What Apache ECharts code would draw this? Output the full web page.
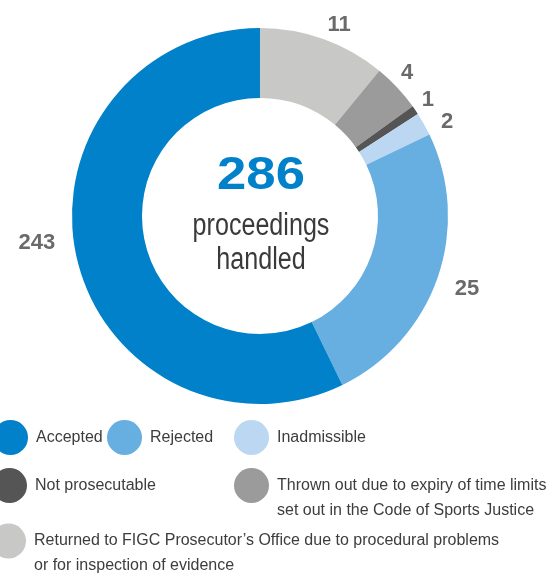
<!DOCTYPE html>
<html>
<head>
<meta charset="utf-8">
<script src="https://cdn.jsdelivr.net/npm/echarts@6/dist/echarts.min.js"></script>
<style>
  html, body { margin: 0; padding: 0; background: #fff; }
  #chart { width: 550px; height: 578px; }
</style>
</head>
<body>
<div id="chart"></div>
<script>
// categories in drawing order, clockwise from 12 o'clock
const categories = [
  "Returned to FIGC Prosecutor’s Office due to procedural problems or for inspection of evidence",
  "Thrown out due to expiry of time limits set out in the Code of Sports Justice",
  "Not prosecutable",
  "Inadmissible",
  "Rejected",
  "Accepted",
];
// number of proceedings per outcome (the printed labels)
const counts = [11, 4, 1, 2, 25, 243];
// sector sizes in degrees as drawn in the reference (the infographic is not to scale)
const arcShares = [39.4, 14.9, 2.8, 7.2, 89.7, 206];
const totalLabel = "286";
const centerLines = ["proceedings", "handled"];

const colors = ["#c8c8c6", "#9b9b9b", "#555555", "#bcd7f1", "#67afe0", "#0081c9"];
const sans = '"Liberation Sans", Arial, sans-serif';
// small hand nudges so the outside numbers sit where the reference prints them
const labelNudge = [[-5, 0], [-11, -4], [-10, -2], [0, 5], [-1, 6], [-3, -19]];

// legend text with the same line breaks as the reference
// (a leading empty line keeps the first line level with the dot)
const legendText = {
  [categories[0]]: "\nReturned to FIGC Prosecutor’s Office due to procedural problems\nor for inspection of evidence",
  [categories[1]]: "\nThrown out due to expiry of time limits\nset out in the Code of Sports Justice",
};

function legendItem(name, left, top) {
  return {
    data: [name],
    left: left,
    top: top,
    padding: 0,
    icon: "circle",
    itemWidth: 35,
    itemHeight: 35,
    selectedMode: false,
    formatter: (n) => legendText[n] || n,
    textStyle: {
      fontFamily: sans,
      fontSize: 16,
      color: "#3d3d3d",
      lineHeight: 25,
      padding: [0, 0, 0, 3],
    },
  };
}

function centerText(text, y, font, fill, scaleX) {
  return {
    type: "text",
    x: 261,
    y: y,
    scaleX: scaleX,
    style: { text: text, align: "center", verticalAlign: "middle", fill: fill, font: font },
  };
}

const myChart = echarts.init(document.getElementById("chart"));
const option = {
  animation: false,
  color: colors,
  legend: [
    legendItem(categories[5], -7, 420),
    legendItem(categories[4], 107, 420),
    legendItem(categories[3], 234, 420),
    legendItem(categories[2], -8, 468),
    legendItem(categories[1], 234, 448),
    legendItem(categories[0], -9, 503.5),
  ],
  graphic: [
    centerText(totalLabel, 176, "bold 47px " + sans, "#0081c9", 1.12),
    centerText(centerLines[0], 226, "31px " + sans, "#3a3a3a", 0.81),
    centerText(centerLines[1], 260, "31px " + sans, "#3a3a3a", 0.81),
  ],
  series: [
    {
      type: "pie",
      center: [260, 216],
      radius: [118, 188],
      startAngle: 90,
      clockwise: true,
      avoidLabelOverlap: false,
      silent: true,
      data: categories.map((name, i) => ({
        name: name,
        value: arcShares[i],
        label: { offset: labelNudge[i] },
      })),
      label: {
        show: true,
        position: "outside",
        formatter: (p) => String(counts[p.dataIndex]),
        color: "#6a6a6a",
        fontFamily: sans,
        fontWeight: "bold",
        fontSize: 22,
        lineHeight: 22,
        distanceToLabelLine: 4,
      },
      labelLayout: { hideOverlap: false },
      labelLine: { show: false, length: 15, length2: 0 },
      itemStyle: { borderWidth: 0 },
    },
  ],
};
option && myChart.setOption(option);
</script>
</body>
</html>
